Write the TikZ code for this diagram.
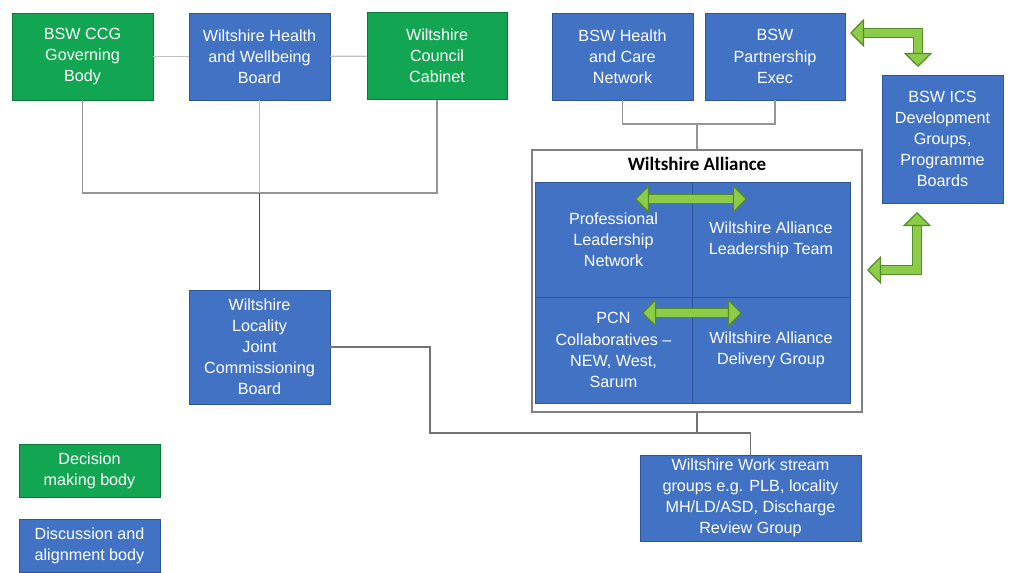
\documentclass[tikz,border=0pt]{standalone}
\usepackage{fontspec}
\setmainfont{Liberation Sans}
\newfontfamily\titlefont{Carlito}
\usetikzlibrary{arrows.meta}
\definecolor{boxblue}{RGB}{66,114,196}
\definecolor{blueedge}{RGB}{47,85,151}
\definecolor{boxgreen}{RGB}{18,166,82}
\definecolor{greenedge}{RGB}{10,120,60}
\definecolor{arrowgreen}{RGB}{140,204,72}
\definecolor{arrowedge}{RGB}{84,140,40}
\definecolor{linkgray}{RGB}{150,150,150}

\begin{document}
\begin{tikzpicture}[x=0.025cm,y=-0.025cm,
  every text node part/.style={align=center},
  body/.style={draw=blueedge,fill=boxblue,text=white,inner sep=1pt,line width=0.5pt,
    font=\fontsize{11.5}{15}\selectfont},
  decider/.style={body,draw=greenedge,fill=boxgreen},
  board/.style={minimum width=3.525cm,minimum height=2.175cm},
  quad/.style={draw=blueedge,fill=boxblue,text=white,line width=0.6pt,
    font=\fontsize{11.5}{15}\selectfont},
  link/.style={draw=linkgray,line width=0.9pt},
  garrow/.style={draw=arrowgreen,line width=5pt,
    {Triangle[width=20pt,length=10pt,fill=arrowgreen,color=arrowedge,line width=0.8pt]}-{Triangle[width=20pt,length=10pt,fill=arrowgreen,color=arrowedge,line width=0.8pt]},
    preaction={draw=arrowedge,line width=6.6pt,-,shorten <=8pt,shorten >=8pt}}]
\useasboundingbox (0,0) rectangle (1012,572);

\node [decider,board] (ccg) at (82.5,56.5) {BSW CCG \\ Governing \\ Body};
\node [body,board] (hwb) at (259.5,56.5) {Wiltshire Health \\ and Wellbeing \\ Board};
\node [decider,board,minimum width=3.5cm] (cabinet) at (437,56) {Wiltshire \\ Council \\ Cabinet};
\node [body,board] (hcn) at (622.5,56.5) {BSW Health \\ and Care \\ Network};
\node [body,board,minimum width=3.5cm] (exec) at (775,56.5) {BSW \\ Partnership \\ Exec};
\node [body,minimum width=3.025cm,minimum height=3.2cm] (ics) at (942.5,139) {BSW ICS \\ Development \\ Groups, \\ Programme \\ Boards};
\node [body,board,minimum height=2.85cm] (ljcb) at (259.5,347) {Wiltshire \\ Locality \\ Joint \\ Commissioning \\ Board};
\node [body,minimum width=5.525cm,minimum height=2.15cm] (work) at (750.5,498) {Wiltshire Work stream \\ groups e.g. PLB, locality \\ MH/LD/ASD, Discharge \\ Review Group};

\node [draw=gray,fill=white,line width=1.1pt,minimum width=8.25cm,minimum height=6.55cm] (alliance) at (697,281) {};
\node [font=\titlefont\bfseries\fontsize{13.5}{16}\selectfont] (title) at (697,164) {Wiltshire Alliance};
\node [quad,minimum width=3.925cm,minimum height=2.875cm] (pln) at (613.5,239.5) {Professional \\ Leadership \\ Network};
\node [quad,minimum width=3.95cm,minimum height=2.875cm] (walt) at (771,239.5) {Wiltshire Alliance \\ Leadership Team};
\node [quad,minimum width=3.925cm,minimum height=2.65cm] (pcn) at (613.5,350) {PCN \\ Collaboratives -- \\ NEW, West, \\ Sarum};
\node [quad,minimum width=3.95cm,minimum height=2.65cm] (wadg) at (771,350) {Wiltshire Alliance \\ Delivery Group};

\node [decider,minimum width=3.525cm,minimum height=1.325cm] (keydecide) at (89.5,470.5) {Decision \\ making body};
\node [body,minimum width=3.525cm,minimum height=1.325cm] (keydiscuss) at (89.5,545.5) {Discussion and \\ alignment body};

\coordinate (topjoin) at (259.5,193);
\coordinate (alljoin) at (697,124);
\coordinate (ljbend) at (430,433);
\coordinate (workjoin) at (697,433);

\draw [link,draw=linkgray!60] (ccg) -- (hwb);
\draw [link,draw=linkgray!60] (hwb) -- (cabinet);
\draw [link] (ccg.south) -- (ccg.south |- topjoin) -- (cabinet.south |- topjoin) -- (cabinet.south);
\draw [link,draw=boxblue!45,line width=0.6pt] (hwb.south) -- (topjoin);
\draw [link,draw=black!70] (topjoin) -- (ljcb.north);
\draw [link] (hcn.south) -- (hcn.south |- alljoin) -- (exec.south |- alljoin) -- (exec.south);
\draw [link] (alljoin) -- (alliance.north);
\draw [link,draw=black!55] (ljcb.east) -| (ljbend) -- (ljbend -| work.north) -- (work.north);
\draw [link,draw=black!55] (alliance.south) -- (workjoin);

\coordinate (exectip) at (850,33);
\coordinate (icstip) at (918,67);
\coordinate (icsfoot) at (917,212);
\coordinate (alltip) at (867,270);
\coordinate (plnl) at (635,199);
\coordinate (plnr) at (747,199);
\coordinate (pcnl) at (642,313);
\coordinate (pcnr) at (742,313);
\draw [garrow] (exectip) -| (icstip);
\draw [garrow] (alltip) -| (icsfoot);
\draw [garrow] (plnl) -- (plnr);
\draw [garrow] (pcnl) -- (pcnr);
\end{tikzpicture}
\end{document}
